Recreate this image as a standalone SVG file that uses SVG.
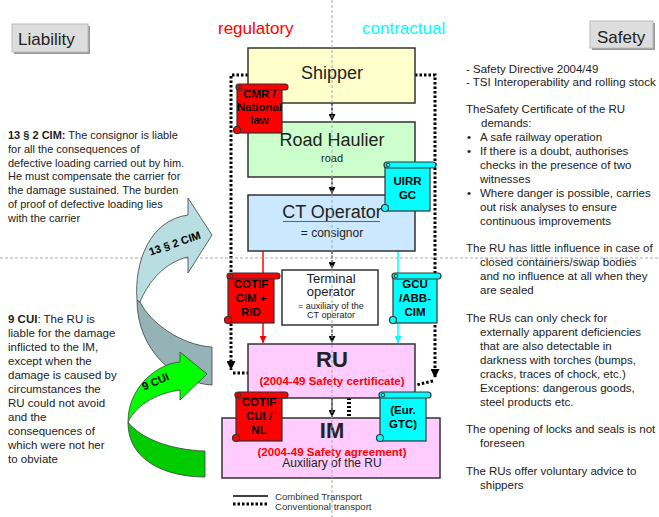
<svg xmlns="http://www.w3.org/2000/svg" width="659" height="517" viewBox="0 0 659 517">
<style>
text{font-family:"Liberation Sans",Arial,sans-serif;}
.node{stroke:#333;stroke-width:1.5;}
.nt{fill:#222;text-anchor:middle;}
.sr{fill:#FF0000;stroke:#333;stroke-width:1.2;}
.sc{fill:#00FFFF;stroke:#333;stroke-width:1.2;}
.curl{fill:none;stroke:#333;stroke-width:1;}
.st{font-size:11.5px;font-weight:bold;fill:#000;text-anchor:middle;}
.guide{stroke:#AAAAAA;stroke-width:1;stroke-dasharray:3 2;fill:none;}
.dot{stroke:#000;stroke-width:3;stroke-dasharray:2.5 2;fill:none;}
.flow{stroke:#000;stroke-width:1.2;stroke-dasharray:3 1.5;fill:none;}
.lt{font-size:11px;fill:#222;}
.lt2{font-size:11.5px;fill:#222;}
.rt{font-size:11.5px;fill:#222;}
.btn{fill:#DDDDDD;stroke:#BBBBBB;stroke-width:1;}
.shadow{fill:#999999;}
.arr{stroke:#404040;stroke-width:0.8;}
.at{font-size:11px;font-weight:bold;fill:#000;text-anchor:middle;}
</style>
<defs>
<marker id="ak" markerWidth="7" markerHeight="7" refX="7" refY="3.5" orient="auto" markerUnits="userSpaceOnUse"><path d="M0,0 L7,3.5 L0,7 z" fill="#000"/></marker>
<marker id="akb" markerWidth="9" markerHeight="9" refX="9" refY="4.5" orient="auto" markerUnits="userSpaceOnUse"><path d="M0,0 L9,4.5 L0,9 z" fill="#000"/></marker>
<marker id="ar" markerWidth="7" markerHeight="7" refX="7" refY="3.5" orient="auto" markerUnits="userSpaceOnUse"><path d="M0,0 L7,3.5 L0,7 z" fill="#FF0000"/></marker>
<marker id="ac" markerWidth="7" markerHeight="7" refX="7" refY="3.5" orient="auto" markerUnits="userSpaceOnUse"><path d="M0,0 L7,3.5 L0,7 z" fill="#00FFFF"/></marker>
</defs>
<rect width="659" height="517" fill="#FFFFFF"/>

<g id="liability">
<rect class="shadow" x="14" y="26" width="76" height="28"/>
<rect class="btn" x="12" y="24" width="76" height="28"/>
<text x="18" y="45" font-size="17" fill="#222">Liability</text>
</g>
<g id="safety">
<rect class="shadow" x="592" y="23" width="63" height="27"/>
<rect class="btn" x="590" y="21" width="63" height="27"/>
<text x="597" y="43" font-size="17" fill="#222">Safety</text>
</g>
<text x="218" y="34" font-size="17" fill="#FF0000">regulatory</text>
<text x="362" y="34" font-size="17" fill="#00FFFF">contractual</text>

<g id="left-text-1" class="lt">
<text x="8" y="139"><tspan font-weight="bold">13 § 2 CIM:</tspan> The consignor is liable</text>
<text x="8" y="152.8">for all the consequences of</text>
<text x="8" y="166.6">defective loading carried out by him.</text>
<text x="8" y="180.4">He must compensate the carrier for</text>
<text x="8" y="194.2">the damage sustained. The burden</text>
<text x="8" y="208">of proof of defective loading lies</text>
<text x="8" y="221.8">with the carrier</text>
</g>
<g id="left-text-2" class="lt2">
<text x="8" y="323"><tspan font-weight="bold">9 CUI</tspan>: The RU is</text>
<text x="8" y="337">liable for the damage</text>
<text x="8" y="351">inflicted to the IM,</text>
<text x="8" y="365">except when the</text>
<text x="8" y="379">damage is caused by</text>
<text x="8" y="393">circumstances the</text>
<text x="8" y="407">RU could not avoid</text>
<text x="8" y="421">and the</text>
<text x="8" y="435">consequences of</text>
<text x="8" y="449">which were not her</text>
<text x="8" y="463">to obviate</text>
</g>
<g id="right-text" class="rt">
<text x="466" y="73">- Safety Directive 2004/49</text>
<text x="466" y="86">- TSI Interoperability and rolling stock</text>
<text x="466" y="113">TheSafety Certificate of the RU</text>
<text x="481" y="127">demands:</text>
<text x="467" y="141">•</text><text x="480" y="141">A safe railway operation</text>
<text x="467" y="155">•</text><text x="480" y="155">If there is a doubt, authorises</text>
<text x="480" y="169">checks in the presence of two</text>
<text x="480" y="183">witnesses</text>
<text x="467" y="197">•</text><text x="480" y="197">Where danger is possible, carries</text>
<text x="480" y="211">out risk analyses to ensure</text>
<text x="480" y="225">continuous improvements</text>
<text x="466" y="252">The RU has little influence in case of</text>
<text x="480" y="266">closed containers/swap bodies</text>
<text x="480" y="280">and no influence at all when they</text>
<text x="480" y="294">are sealed</text>
<text x="466" y="322">The RUs can only check for</text>
<text x="480" y="336">externally apparent deficiencies</text>
<text x="480" y="350">that are also detectable in</text>
<text x="480" y="364">darkness with torches (bumps,</text>
<text x="480" y="378">cracks, traces of chock, etc.)</text>
<text x="480" y="392">Exceptions: dangerous goods,</text>
<text x="480" y="406">steel products etc.</text>
<text x="466" y="433">The opening of locks and seals is not</text>
<text x="480" y="447">foreseen</text>
<text x="466" y="475">The RUs offer voluntary advice to</text>
<text x="480" y="489">shippers</text>
</g>

<g id="connectors">
<line class="flow" x1="332" y1="103" x2="332" y2="121" marker-end="url(#ak)"/>
<line class="flow" x1="332" y1="177" x2="332" y2="194" marker-end="url(#ak)"/>
<line class="flow" x1="332" y1="251" x2="332" y2="269" marker-end="url(#ak)"/>
<line class="flow" x1="332" y1="325" x2="332" y2="343" marker-end="url(#ak)"/>
<line x1="332" y1="398" x2="332" y2="417" stroke="#000" stroke-width="1.2" marker-end="url(#ak)"/>
<line x1="263" y1="251" x2="263" y2="343" stroke="#FF0000" stroke-width="1.5" marker-end="url(#ar)"/>
<line x1="398" y1="251" x2="398" y2="343" stroke="#00FFFF" stroke-width="1.5" marker-end="url(#ac)"/>
<path class="dot" d="M248,75 H231 V370" marker-end="url(#akb)"/>
<path class="dot" d="M233,373 H248"/>
<path class="dot" d="M415,75 H435 V378" marker-end="url(#akb)"/>
<path class="dot" d="M433,381 L416,385"/>
<path d="M349,398 V418" stroke="#000" stroke-width="4" stroke-dasharray="2 2" fill="none"/>
</g>

<g id="shipper">
<rect class="node" x="248" y="48" width="167" height="55" fill="#FFFFCC"/>
<text class="nt" x="332" y="79" font-size="18">Shipper</text>
</g>
<g id="road-haulier">
<rect class="node" x="248" y="122" width="167" height="55" fill="#CCFFCC"/>
<text class="nt" x="332" y="146" font-size="18">Road Haulier</text>
<text class="nt" x="332" y="162" font-size="11">road</text>
</g>
<g id="ct-operator">
<rect class="node" x="248" y="195" width="167" height="56" fill="#CCE8FF"/>
<text class="nt" x="332" y="218" font-size="18">CT Operator</text>
<line x1="283" y1="221.5" x2="380" y2="221.5" stroke="#4060C0" stroke-width="1"/>
<text class="nt" x="332" y="237" font-size="12">= consignor</text>
</g>
<g id="terminal-operator">
<rect class="node" x="282" y="270" width="96" height="55" fill="#FFFFFF"/>
<text class="nt" x="331" y="282.5" font-size="13">Terminal</text>
<text class="nt" x="331" y="296" font-size="13">operator</text>
<text class="nt" x="331" y="308.5" font-size="9">= auxiliary of the</text>
<text class="nt" x="331" y="318" font-size="9">CT operator</text>
</g>
<g id="ru">
<rect class="node" x="248" y="344" width="167" height="54" fill="#FFCCFF"/>
<text class="nt" x="332" y="367" font-size="22" font-weight="bold">RU</text>
<text x="332" y="385" font-size="11.5" font-weight="bold" fill="#FF0000" text-anchor="middle">(2004-49 Safety certificate)</text>
</g>
<g id="im">
<rect class="node" x="222" y="418" width="218" height="60" fill="#FFCCFF"/>
<text class="nt" x="332" y="438" font-size="22" font-weight="bold">IM</text>
<text class="nt" x="332" y="467" font-size="12" fill="#333">Auxiliary of the RU</text>
<text x="332" y="455.5" font-size="11.5" font-weight="bold" fill="#FF0000" text-anchor="middle">(2004-49 Safety agreement)</text>
</g>

<g id="guides">
<line class="guide" x1="332" y1="0" x2="332" y2="517"/>
<line class="guide" x1="0" y1="258" x2="659" y2="258"/>
</g>

<g id="arrow-13-cim">
<path class="arr" fill="#95B3B7" d="M140,302 C150,322 180,345 212,347 L212,385 C175,383 137,350 137,300 Z"/>
<path class="arr" fill="#B9DEE2" d="M188,215 L188,198 L212,235 L188,273 L188,257 C165,262 148,282 140,302 L137,300 C134,262 150,220 188,215 Z"/>
<text class="at" transform="translate(176,247) rotate(-19)">13 § 2 CIM</text>
</g>
<g id="arrow-9-cui">
<path class="arr" fill="#00CC00" d="M128,422 C140,438 170,450 205,451 L205,477 C165,477 128,460 128,423 Z"/>
<path class="arr" fill="#00FF00" d="M180,362 L180,352 L207,374 L180,400 L180,390 C160,393 138,402 128,422 C128,385 160,363 180,362 Z"/>
<text class="at" font-size="11.5" transform="translate(157,385) rotate(-23)">9 CUI</text>
</g>

<g id="scroll-cmr">
<rect class="sr" x="237" y="87" width="45" height="46"/>
<rect class="sr" x="236" y="84" width="52" height="6" rx="3"/>
<circle class="sr" cx="237" cy="130" r="3.5"/>
<circle class="curl" cx="240" cy="87" r="1.8"/>
<text class="st" x="259.5" y="98">CMR /</text>
<text class="st" x="259.5" y="111">National</text>
<text class="st" x="259.5" y="124">law</text>
</g>
<g id="scroll-uirr">
<rect class="sc" x="385" y="165" width="45" height="46"/>
<rect class="sc" x="384" y="162" width="52" height="6" rx="3"/>
<circle class="sc" cx="385" cy="208" r="3.5"/>
<circle class="curl" cx="388" cy="165" r="1.8"/>
<text class="st" x="407.5" y="185">UIRR</text>
<text class="st" x="407.5" y="199">GC</text>
</g>
<g id="scroll-cotif-cim">
<rect class="sr" x="228" y="276" width="46" height="47"/>
<rect class="sr" x="227" y="273" width="53" height="6" rx="3"/>
<circle class="sr" cx="228" cy="320" r="3.5"/>
<circle class="curl" cx="231" cy="276" r="1.8"/>
<text class="st" x="251" y="288">COTIF</text>
<text class="st" x="251" y="302">CIM +</text>
<text class="st" x="251" y="316">RID</text>
</g>
<g id="scroll-gcu">
<rect class="sc" x="393" y="276" width="44" height="47"/>
<rect class="sc" x="392" y="273" width="49" height="6" rx="3"/>
<circle class="sc" cx="393" cy="320" r="3.5"/>
<circle class="curl" cx="396" cy="276" r="1.8"/>
<text class="st" x="415" y="288">GCU</text>
<text class="st" x="415" y="302">/ABB-</text>
<text class="st" x="415" y="316">CIM</text>
</g>
<g id="scroll-cotif-cui">
<rect class="sr" x="236" y="395" width="46" height="46"/>
<rect class="sr" x="235" y="392" width="53" height="6" rx="3"/>
<circle class="sr" cx="236" cy="438" r="3.5"/>
<circle class="curl" cx="239" cy="395" r="1.8"/>
<text class="st" x="259" y="406">COTIF</text>
<text class="st" x="259" y="420">CUI /</text>
<text class="st" x="259" y="434">NL</text>
</g>
<g id="scroll-eur-gtc">
<rect class="sc" x="380" y="395" width="46" height="46"/>
<rect class="sc" x="379" y="392" width="52" height="6" rx="3"/>
<circle class="sc" cx="380" cy="438" r="3.5"/>
<circle class="curl" cx="383" cy="395" r="1.8"/>
<text class="st" x="403" y="414">(Eur.</text>
<text class="st" x="403" y="428">GTC)</text>
</g>

<g id="legend">
<line x1="233" y1="496" x2="268" y2="496" stroke="#000" stroke-width="1.5"/>
<line x1="233" y1="504" x2="268" y2="504" stroke="#000" stroke-width="3" stroke-dasharray="2.5 2"/>
<text x="275" y="500" font-size="9.6" fill="#333">Combined Transport</text>
<text x="275" y="510" font-size="9.6" fill="#333">Conventional transport</text>
</g>
</svg>
